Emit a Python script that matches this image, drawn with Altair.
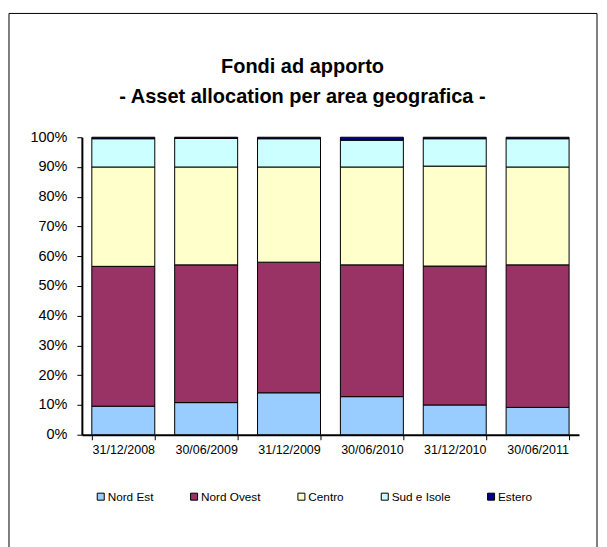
import altair as alt
import pandas as pd

dates = ["31/12/2008", "30/06/2009", "31/12/2009", "30/06/2010", "31/12/2010", "30/06/2011"]
areas = ["Nord Est", "Nord Ovest", "Centro", "Sud e Isole", "Estero"]
colors = ["#99CCFF", "#993366", "#FFFFCC", "#CCFFFF", "#000080"]

nord_est = [9.6, 10.8, 14.1, 12.8, 10.0, 9.2]
nord_ovest = [47.0, 46.3, 43.9, 44.3, 46.7, 47.9]
centro = [33.4, 32.9, 32.0, 32.9, 33.6, 32.9]
sud_isole = [9.5, 9.6, 9.5, 9.0, 9.2, 9.5]
estero = [0.5, 0.4, 0.5, 1.0, 0.5, 0.5]

series = [nord_est, nord_ovest, centro, sud_isole, estero]
rows = []
for k, (name, vals) in enumerate(zip(areas, series)):
    for d, v in zip(dates, vals):
        rows.append({"data": d, "area": name, "valore": v, "ordine": k})
df = pd.DataFrame(rows)

bars = alt.Chart(df).mark_bar(stroke="#000000", strokeWidth=1).encode(
    x=alt.X("data:N", sort=dates, title=None,
            scale=alt.Scale(paddingInner=0.24, paddingOuter=0.12),
            axis=alt.Axis(labelAngle=0, tickBand="extent", tickSize=5, labelPadding=4,
                          labelFontSize=12.5, domainWidth=2)),
    y=alt.Y("valore:Q", stack="normalize", title=None,
            scale=alt.Scale(domain=[0, 1]),
            axis=alt.Axis(values=[i / 10 for i in range(11)], format=".0%", grid=False,
                          tickSize=5, labelPadding=10, labelFontSize=14.5, domainWidth=2)),
    color=alt.Color("area:N", scale=alt.Scale(domain=areas, range=colors),
                    legend=alt.Legend(title=None, orient="none", legendX=13, legendY=354,
                                      direction="horizontal", columns=5, columnPadding=34.5,
                                      symbolType="square", symbolSize=49,
                                      symbolStrokeColor="#000000", symbolStrokeWidth=1,
                                      labelFontSize=11.8, labelOffset=1)),
    order=alt.Order("ordine:Q"),
)

frame = alt.Chart(alt.Data(values=[{}])).mark_rect(
    fill=None, stroke="#000000", strokeWidth=1
).encode(
    x=alt.value(-73), x2=alt.value(516), y=alt.value(-124), y2=alt.value(420)
)

chart = alt.layer(frame, bars).properties(
    width=498, height=298,
    title=alt.TitleParams(["Fondi ad apporto", "- Asset allocation per area geografica -"],
                          anchor="middle", frame="group", dx=-28, offset=-94,
                          fontSize=20, fontWeight="bold", lineHeight=30,
                          font="Liberation Sans", color="#000000"),
    autosize=alt.AutoSizeParams(type="none"),
    padding={"left": 74, "top": 129, "right": 20, "bottom": 112},
).configure(
    font="Liberation Sans"
).configure_axis(
    domainColor="#000000", tickColor="#000000", labelColor="#000000",
    labelFont="Liberation Sans"
).configure_legend(
    labelFont="Liberation Sans", labelColor="#000000"
).configure_view(stroke=None)

chart.save("out.html", embed_options={"renderer": "svg", "actions": False})
